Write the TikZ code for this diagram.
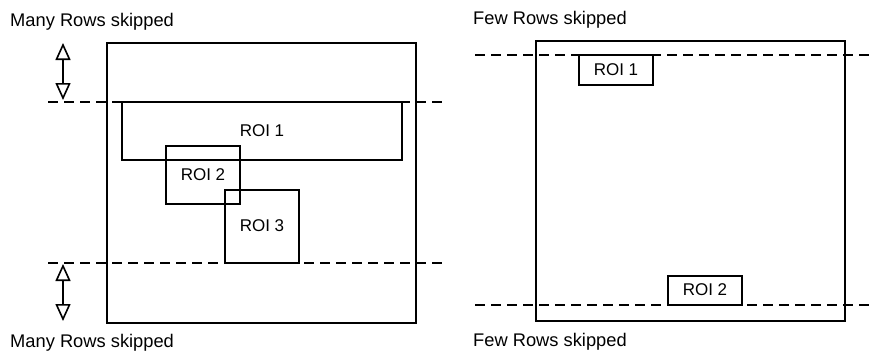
\documentclass[tikz,border=0pt]{standalone}
\usepackage{fontspec}
\setmainfont{Liberation Sans}
\usetikzlibrary{arrows.meta}
\begin{document}
\begin{tikzpicture}[x=1pt,y=-1pt,
  frame/.style={draw,line width=2pt},
  roi/.style={draw,line width=2pt},
  cut/.style={line width=1.8pt,dash pattern=on 10pt off 6pt},
  lbl/.style={font=\fontsize{18.3}{21}\selectfont,anchor=west,inner sep=0pt},
  roitext/.style={font=\fontsize{17}{20}\selectfont,inner sep=0pt},
  skip/.style={line width=1.6pt,{Triangle[open,length=17pt,width=15pt]}-{Triangle[open,length=17pt,width=15pt]}}]
\useasboundingbox (0,0) rectangle (877,353);
% left panel
\draw[frame] (107,43) rectangle (416,323);
\draw[roi] (122,102) rectangle (402,160);
\draw[roi] (166,146) rectangle (240,204);
\draw[roi] (225,190) rectangle (299,263);
\coordinate (lt1) at (48,102); \coordinate (lt2) at (447,102);
\coordinate (lb1) at (48,263); \coordinate (lb2) at (447,263);
\draw[cut] (lt1) -- (lt2);
\draw[cut] (lb1) -- (lb2);
\node[roitext] (r1) at (262,131) {ROI 1};
\node[roitext] (r2) at (203,175) {ROI 2};
\node[roitext] (r3) at (262,226) {ROI 3};
\coordinate (a1) at (63,43); \coordinate (a2) at (63,100);
\coordinate (a3) at (63,264); \coordinate (a4) at (63,321);
\draw[skip] (a1) -- (a2);
\draw[skip] (a3) -- (a4);
\node[lbl] (m1) at (10,22) {Many Rows skipped};
\node[lbl] (m2) at (10,343) {Many Rows skipped};
% right panel
\draw[frame] (536,41) rectangle (845,321);
\coordinate (rt1) at (475,55); \coordinate (rt2) at (874,55);
\coordinate (rb1) at (475,305); \coordinate (rb2) at (874,305);
\draw[cut] (rt1) -- (rt2);
\draw[cut] (rb1) -- (rb2);
\draw[roi] (579,55) rectangle (653,85);
\draw[roi] (668,276) rectangle (742,305);
\node[roitext] (s1) at (616,70) {ROI 1};
\node[roitext] (s2) at (705,290) {ROI 2};
\node[lbl] (f1) at (473,20) {Few Rows skipped};
\node[lbl] (f2) at (473,342) {Few Rows skipped};
\end{tikzpicture}
\end{document}
